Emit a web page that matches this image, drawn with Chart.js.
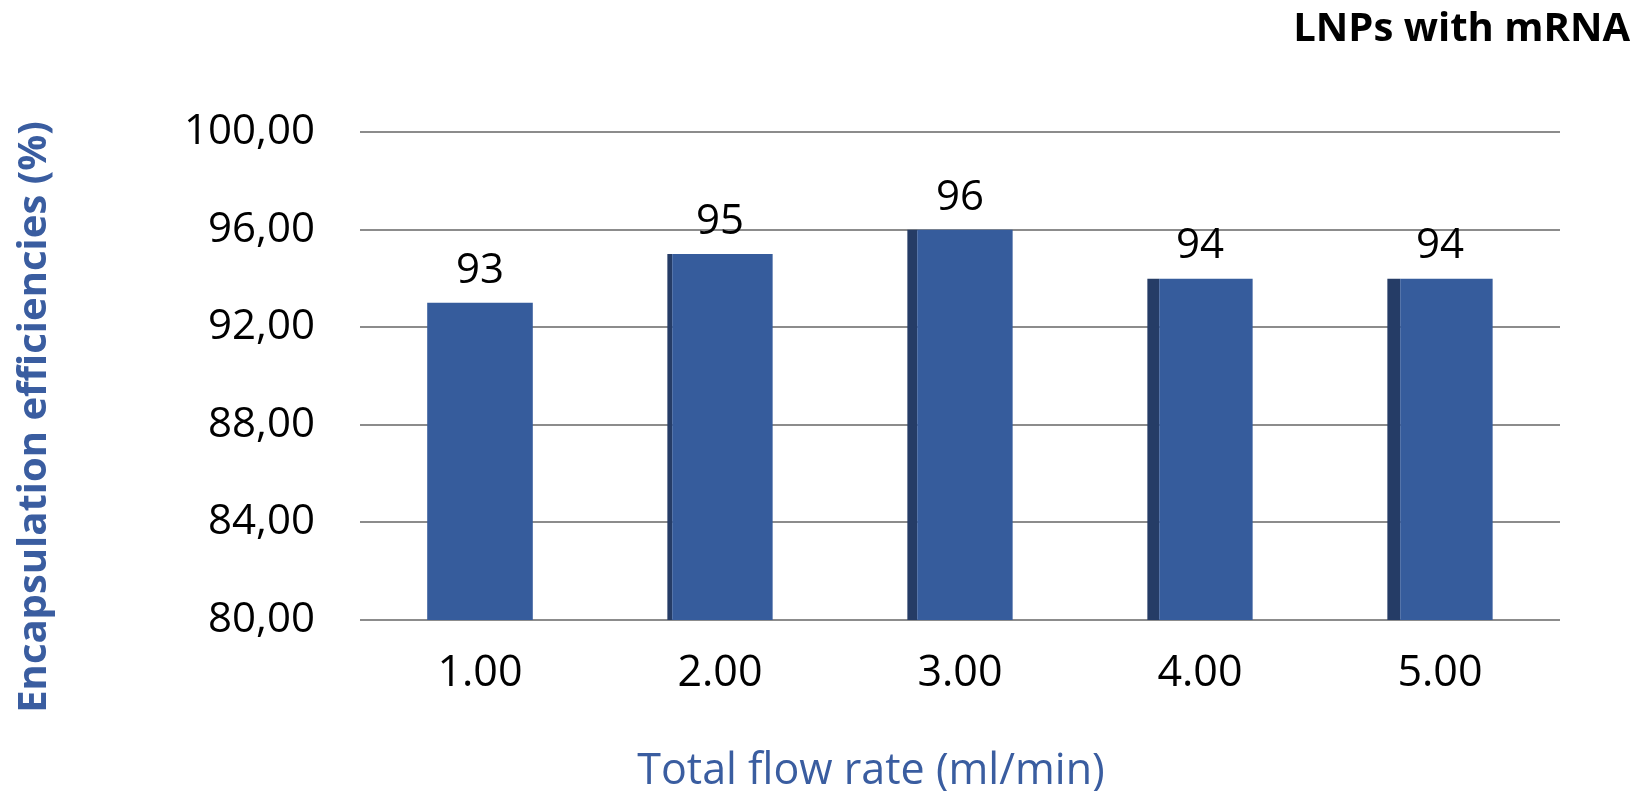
<!DOCTYPE html>
<html>
<head>
<meta charset="utf-8">
<script src="https://cdn.jsdelivr.net/npm/chart.js@4/dist/chart.umd.min.js"></script>
<style>
  html, body { margin: 0; padding: 0; background: #ffffff; }
  #wrap { width: 1635px; height: 791px; position: relative; }
</style>
</head>
<body>
<div id="wrap"><canvas id="c" width="1635" height="791"></canvas></div>
<script>
const categories = ["1.00", "2.00", "3.00", "4.00", "5.00"];
const efficiencies = [93, 95, 96, 94, 94];
const valueLabels = ["93", "95", "96", "94", "94"];
const yTicks = [80, 84, 88, 92, 96, 100];
const chartTitle = "LNPs with mRNA";
const xTitle = "Total flow rate (ml/min)";
const yTitle = "Encapsulation efficiencies (%)";

const FONT = "'Open Sans', 'Noto Sans', sans-serif";
const BLUE_TEXT = "#3A5DA0";
const BAR = "#365C9C";
const BAR_SIDE = "#253C66";
const sideWidths = [0, 5, 10, 12, 13];

const overlay = {
  id: 'overlay',
  afterDatasetsDraw(chart) {
    const ctx = chart.ctx;
    const meta = chart.getDatasetMeta(0);
    ctx.save();
    ctx.fillStyle = '#000';
    ctx.font = "42px " + FONT;
    ctx.textAlign = 'center';
    ctx.textBaseline = 'bottom';
    meta.data.forEach((bar, i) => {
      ctx.fillText(valueLabels[i], bar.x, bar.y - 11);
    });
    ctx.restore();
  },
  afterDraw(chart) {
    const ctx = chart.ctx;
    ctx.save();
    ctx.fillStyle = BLUE_TEXT;
    ctx.textAlign = 'center';
    ctx.textBaseline = 'middle';
    ctx.font = "43px " + FONT;
    ctx.fillText(xTitle, 871, 772);
    ctx.translate(35, 417);
    ctx.rotate(-Math.PI / 2);
    ctx.font = "bold 40px " + FONT;
    ctx.fillText(yTitle, 0, 0);
    ctx.restore();
  }
};

new Chart(document.getElementById('c'), {
  type: 'bar',
  data: {
    labels: categories,
    datasets: [{
      data: efficiencies,
      backgroundColor: BAR,
      borderColor: BAR_SIDE,
      borderWidth: (ctx) => ({ left: sideWidths[ctx.dataIndex] || 0, top: 0, right: 0, bottom: 0 }),
      borderSkipped: false,
      categoryPercentage: 1,
      barPercentage: 0.44
    }]
  },
  options: {
    responsive: false,
    animation: false,
    devicePixelRatio: 1,
    layout: { padding: { left: 5, right: 5, top: 0, bottom: 0 } },
    plugins: {
      legend: { display: false },
      tooltip: { enabled: false },
      title: {
        display: true,
        text: chartTitle,
        align: 'end',
        color: '#000',
        font: { family: FONT, size: 40, weight: 'bold' },
        padding: { top: 6, bottom: 78 }
      }
    },
    scales: {
      x: {
        grid: { display: false, drawTicks: false },
        border: { display: false },
        ticks: { color: '#000', font: { family: FONT, size: 43 }, padding: 28 },
        afterFit(scale) { scale.height = 171; }
      },
      y: {
        min: 80,
        max: 100,
        afterBuildTicks(scale) { scale.ticks = yTicks.map(v => ({ value: v })); },
        grid: { color: '#8c8c8c', lineWidth: 2, drawTicks: false },
        border: { display: false },
        ticks: {
          color: '#000',
          font: { family: FONT, size: 42 },
          padding: 45,
          callback: (v) => Number(v).toFixed(2).replace('.', ',')
        },
        afterFit(scale) { scale.width = 355; }
      },
      yRight: {
        position: 'right',
        display: true,
        grid: { display: false, drawTicks: false },
        border: { display: false },
        ticks: { display: false },
        afterFit(scale) { scale.width = 70; }
      }
    }
  },
  plugins: [overlay]
});
</script>
</body>
</html>
